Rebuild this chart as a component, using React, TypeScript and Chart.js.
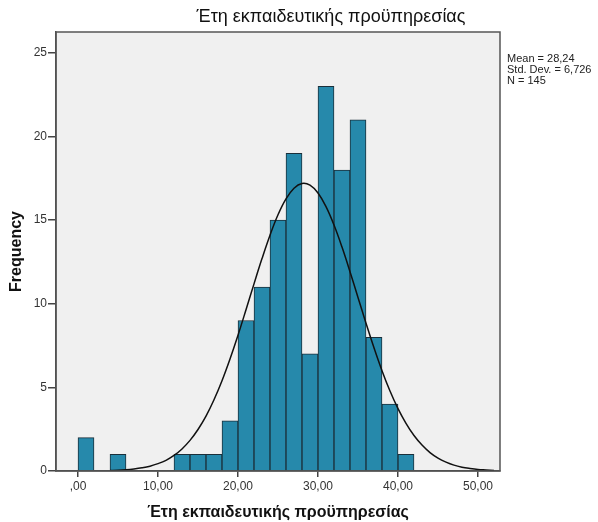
import React, { useEffect, useRef } from "react";
import { Chart, registerables } from "chart.js";

Chart.register(...registerables);

const TITLE = "Έτη εκπαιδευτικής προϋπηρεσίας";
const X_TITLE = "Έτη εκπαιδευτικής προϋπηρεσίας";
const Y_TITLE = "Frequency";
const STATS_LINES = ["Mean = 28,24", "Std. Dev. = 6,726", "N = 145"];

// histogram bins (bin centres, width 2)
const BIN_CENTERS = [1, 3, 5, 7, 9, 11, 13, 15, 17, 19, 21, 23, 25, 27, 29, 31, 33, 35, 37, 39, 41];
const BIN_COUNTS = [2, 0, 1, 0, 0, 0, 1, 1, 1, 3, 9, 11, 15, 19, 7, 23, 18, 21, 8, 4, 1];

// normal curve
const CURVE_X = [4, 5, 6, 7, 8, 9, 10, 11, 12, 13, 14, 15, 16, 17, 18, 19, 20, 21, 22, 23, 24, 25, 26, 27, 28, 29, 30, 31, 32, 33, 34, 35, 36, 37, 38, 39, 40, 41, 42, 43, 44, 45, 46, 47, 48, 49, 50, 51, 52];
const CURVE_Y = [0.03, 0.04, 0.07, 0.12, 0.19, 0.29, 0.44, 0.64, 0.93, 1.32, 1.83, 2.48, 3.28, 4.26, 5.4, 6.7, 8.12, 9.64, 11.19, 12.7, 14.1, 15.32, 16.27, 16.91, 17.19, 17.09, 16.62, 15.81, 14.71, 13.39, 11.92, 10.38, 8.84, 7.37, 6.0, 4.78, 3.73, 2.85, 2.12, 1.55, 1.1, 0.77, 0.53, 0.35, 0.23, 0.15, 0.09, 0.06, 0.03];

const X_TICKS = [0, 10, 20, 30, 40, 50];
const X_TICK_LABELS = [",00", "10,00", "20,00", "30,00", "40,00", "50,00"];
const Y_TICKS = [0, 5, 10, 15, 20, 25];

const FONT = "'Liberation Sans', Arial, sans-serif";

export default function App() {
  const ref = useRef<HTMLCanvasElement | null>(null);

  useEffect(() => {
    const canvas = ref.current;
    if (!canvas) return;

    const framePlugin = {
      id: "frame",
      beforeDraw(chart: any) {
        const { ctx, chartArea: a } = chart;
        ctx.save();
        ctx.fillStyle = "#ffffff";
        ctx.fillRect(0, 0, chart.width, chart.height);
        ctx.fillStyle = "#f0f0f0";
        ctx.fillRect(a.left, a.top, a.right - a.left, a.bottom - a.top);
        ctx.restore();
      },
      afterDraw(chart: any) {
        const { ctx, chartArea: a } = chart;
        ctx.save();
        ctx.strokeStyle = "#555555";
        ctx.lineWidth = 1.5;
        ctx.strokeRect(a.left, a.top, a.right - a.left, a.bottom - a.top);
        ctx.fillStyle = "#111111";
        ctx.font = `18px ${FONT}`;
        ctx.textAlign = "center";
        ctx.textBaseline = "middle";
        ctx.fillText(TITLE, 331, 17);
        ctx.font = `11px ${FONT}`;
        ctx.textAlign = "left";
        ctx.fillStyle = "#222222";
        STATS_LINES.forEach((s, i) => ctx.fillText(s, a.right + 7, 59 + i * 10.8));
        ctx.restore();
      },
    };

    const chart = new Chart(canvas, {
      type: "bar",
      data: {
        datasets: [
          {
            type: "line",
            data: CURVE_X.map((x, i) => ({ x, y: CURVE_Y[i] })),
            borderColor: "#111111",
            borderWidth: 1.5,
            pointRadius: 0,
            tension: 0.4,
            fill: false,
            order: 0,
          } as any,
          {
            type: "bar",
            data: BIN_CENTERS.map((x, i) => ({ x, y: BIN_COUNTS[i] })),
            backgroundColor: "#2689ab",
            borderColor: "#1b2f3a",
            borderWidth: 1,
            barPercentage: 1,
            categoryPercentage: 1,
            order: 1,
          } as any,
        ],
      },
      options: {
        animation: false,
        responsive: false,
        maintainAspectRatio: false,
        layout: { padding: { left: 0, top: 32, right: 98, bottom: 0 } },
        plugins: {
          legend: { display: false },
          tooltip: { enabled: false },
          title: { display: false },
        },
        scales: {
          x: {
            type: "linear",
            min: -2.75,
            max: 52.75,
            offset: false,
            afterBuildTicks: (s: any) => {
              s.ticks = X_TICKS.map((v) => ({ value: v }));
            },
            afterFit: (s: any) => {
              s.height = 51;
            },
            ticks: {
              autoSkip: false,
              maxRotation: 0,
              padding: 2,
              color: "#333333",
              font: { family: FONT, size: 12 },
              callback: (v: any) => {
                const i = X_TICKS.indexOf(Number(v));
                return i >= 0 ? X_TICK_LABELS[i] : "";
              },
            },
            grid: { display: true, offset: false, drawOnChartArea: false, drawTicks: true, tickLength: 6, color: "#444444", lineWidth: 1.5 },
            border: { display: true, color: "#444444", width: 1.5 },
            title: {
              display: true,
              text: X_TITLE,
              color: "#111111",
              font: { family: FONT, size: 16, weight: "bold" },
              padding: { top: 0, bottom: 0 },
            },
          },
          y: {
            type: "linear",
            min: 0,
            max: 26.25,
            afterBuildTicks: (s: any) => {
              s.ticks = Y_TICKS.map((v) => ({ value: v }));
            },
            afterFit: (s: any) => {
              s.width = 56;
            },
            ticks: {
              padding: 1,
              color: "#333333",
              font: { family: FONT, size: 12 },
            },
            grid: { display: true, offset: false, drawOnChartArea: false, drawTicks: true, tickLength: 8, color: "#444444", lineWidth: 1.5 },
            border: { display: true, color: "#444444", width: 1.5 },
            title: {
              display: true,
              text: Y_TITLE,
              color: "#111111",
              font: { family: FONT, size: 16, weight: "bold" },
              padding: { top: 7, bottom: 0 },
            },
          },
        },
      },
      plugins: [framePlugin],
    } as any);

    return () => chart.destroy();
  }, []);

  return (
    <canvas
      ref={ref}
      width={598}
      height={522}
      style={{ position: "fixed", left: 0, top: 0, width: 598, height: 522 }}
    />
  );
}
